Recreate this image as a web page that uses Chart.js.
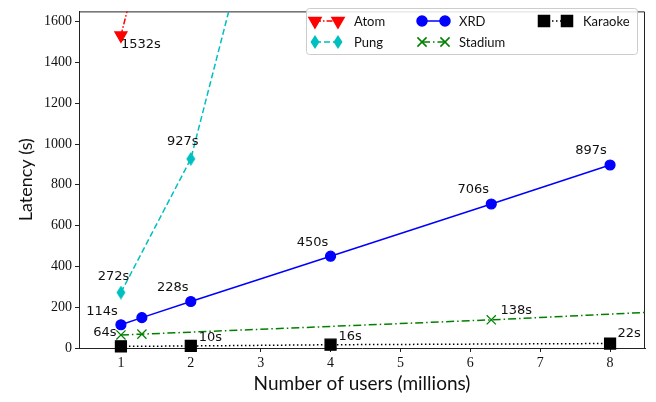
<!DOCTYPE html>
<html>
<head>
<meta charset="utf-8">
<script src="https://cdn.jsdelivr.net/npm/chart.js@4.4.0/dist/chart.umd.min.js"></script>
<style>
  html, body { margin: 0; padding: 0; background: #fff; }
  #wrap { width: 656px; height: 402px; }
</style>
</head>
<body>
<div id="wrap"><canvas id="c" width="656" height="402"></canvas></div>
<script>
// values (users in millions, latency in seconds)
const atomUsers = [1, 2]
const atomLatency = [1532, 2880]
const pungUsers = [1, 2, 4]
const pungLatency = [272, 927, 3591]
const xrdUsers = [1, 1.3, 2, 4, 6.3, 8]
const xrdLatency = [114, 149, 228, 450, 706, 897]
const stadiumUsers = [1, 1.3, 6.3, 10]
const stadiumLatency = [64, 68, 138, 199]
const karaokeUsers = [1, 2, 4, 8]
const karaokeLatency = [8, 10, 16, 22]

const xTicks = [1, 2, 3, 4, 5, 6, 7, 8]
const yTicks = [0, 200, 400, 600, 800, 1000, 1200, 1400, 1600]

const tickFont = { family: '"Liberation Serif", serif', size: 14 }

// thin diamond like matplotlib's 'd'
function thinDiamond(color) {
  const c = document.createElement('canvas')
  c.width = 10; c.height = 14
  const g = c.getContext('2d')
  g.fillStyle = color
  g.beginPath()
  g.moveTo(5, 0); g.lineTo(9.5, 7); g.lineTo(5, 14); g.lineTo(0.5, 7)
  g.closePath(); g.fill()
  return c
}

// per-series look; labels = { pointIndex: [dx, dy] } text centre offset from the point
const series = [
  { name: 'Atom', xs: atomUsers, ys: atomLatency, color: '#ff0000', dash: [6, 2, 1.5, 2],
    style: 'triangle', radius: 7, rotation: 180, labels: { 0: [20, 9.5] } },
  { name: 'Pung', xs: pungUsers, ys: pungLatency, color: '#00bfbf', dash: [6, 3],
    style: thinDiamond('#00bfbf'), radius: 6, rotation: 0, labels: { 0: [-7.5, -16], 1: [-8, -17] } },
  { name: 'XRD', xs: xrdUsers, ys: xrdLatency, color: '#0000ff', dash: [],
    style: 'circle', radius: 5, rotation: 0, labels: { 0: [-19, -13], 2: [-18, -13.5], 3: [-18, -13.5], 4: [-18, -14], 5: [-19, -14] } },
  { name: 'Stadium', xs: stadiumUsers, ys: stadiumLatency, color: '#008000', dash: [8, 3, 1.5, 3],
    style: 'crossRot', radius: 6.5, rotation: 0, labels: { 0: [-16, -2.5], 2: [25, -9] } },
  { name: 'Karaoke', xs: karaokeUsers, ys: karaokeLatency, color: '#000000', dash: [1.5, 2.5],
    style: 'rect', radius: 7.8, rotation: 0, labels: { 1: [19.5, -8], 2: [19.5, -8], 3: [19, -10] } }
]

// legend columns: [series name, handle x, text x, row y]
const legendItems = [
  ['Atom', 315, 354, 21], ['Pung', 315, 354, 42],
  ['XRD', 422, 459, 21], ['Stadium', 422, 459, 42],
  ['Karaoke', 544, 583, 21]
]

const frame = {
  id: 'frame',
  beforeDatasetsDraw(chart) {
    const { ctx, chartArea: a } = chart
    ctx.save()
    ctx.strokeStyle = '#222'
    ctx.lineWidth = 1
    ctx.beginPath()
    ctx.moveTo(a.left, a.top + 0.5); ctx.lineTo(a.right - 0.5, a.top + 0.5); ctx.lineTo(a.right - 0.5, a.bottom)
    ctx.stroke()
    ctx.restore()
  }
}

const pointLabels = {
  id: 'pointLabels',
  afterDatasetsDraw(chart) {
    const ctx = chart.ctx
    const xs = chart.scales.x, ys = chart.scales.y
    ctx.save()
    ctx.font = '13px "DejaVu Sans"'
    ctx.fillStyle = '#111'
    ctx.textAlign = 'center'
    ctx.textBaseline = 'middle'
    series.forEach(s => {
      Object.keys(s.labels).forEach(i => {
        const [dx, dy] = s.labels[i]
        const px = xs.getPixelForValue(s.xs[i]), py = ys.getPixelForValue(s.ys[i])
        ctx.fillText(s.ys[i] + 's', px + dx, py + dy)
      })
    })
    ctx.restore()
  }
}

const boxLegend = {
  id: 'boxLegend',
  afterDatasetsDraw(chart) {
    const ctx = chart.ctx
    ctx.save()
    ctx.fillStyle = 'rgba(255,255,255,0.85)'
    ctx.strokeStyle = '#cccccc'
    ctx.lineWidth = 1
    ctx.beginPath()
    ctx.roundRect(306.5, 8.5, 331, 46, 3)
    ctx.fill(); ctx.stroke()
    legendItems.forEach(([name, hx, tx, y]) => {
      const s = series.find(it => it.name === name)
      ctx.strokeStyle = s.color
      ctx.fillStyle = s.color
      ctx.lineWidth = 1.5
      ctx.setLineDash(s.dash)
      ctx.beginPath(); ctx.moveTo(hx, y); ctx.lineTo(hx + 23, y); ctx.stroke()
      ctx.setLineDash([])
      const opts = { pointStyle: s.style, radius: s.radius, rotation: s.rotation, borderWidth: 1.2 }
      Chart.helpers.drawPoint(ctx, opts, hx, y)
      Chart.helpers.drawPoint(ctx, opts, hx + 23, y)
      ctx.fillStyle = '#111'
      ctx.font = '13px Lato'
      ctx.textAlign = 'left'
      ctx.textBaseline = 'middle'
      ctx.fillText(name, tx, y + 1)
    })
    ctx.restore()
  }
}

new Chart(document.getElementById('c'), {
  type: 'line',
  data: {
    datasets: series.map(s => ({
      label: s.name,
      data: s.xs.map((x, i) => ({ x, y: s.ys[i] })),
      borderColor: s.color,
      backgroundColor: s.color,
      borderWidth: 1.5,
      borderDash: s.dash,
      pointStyle: s.style,
      pointRadius: s.radius,
      pointRotation: s.rotation,
      pointBorderWidth: 1.2,
      pointBackgroundColor: s.color,
      pointBorderColor: s.color,
      tension: 0,
      clip: { left: 10, top: 0, right: 0, bottom: 10 }
    }))
  },
  options: {
    responsive: false,
    animation: false,
    layout: { padding: { top: 2, right: 11, left: 0, bottom: 0 } },
    plugins: { legend: { display: false }, tooltip: { enabled: false } },
    scales: {
      x: {
        type: 'linear', min: 0.4, max: 8.5,
        afterBuildTicks: s => { s.ticks = xTicks.map(v => ({ value: v })) },
        afterFit: s => { s.height = 54 },
        grid: { drawOnChartArea: false, drawTicks: true, tickLength: 4, color: '#222' },
        border: { color: '#222', width: 1 },
        ticks: { font: tickFont, color: '#111', padding: 3, maxRotation: 0, callback: v => String(v) },
        title: { display: true, text: 'Number of users (millions)', font: { family: 'Lato', size: 19 }, color: '#111', padding: { top: 0, bottom: 7 } }
      },
      y: {
        type: 'linear', min: 0, max: 1650,
        afterBuildTicks: s => { s.ticks = yTicks.map(v => ({ value: v })) },
        afterFit: s => { s.width = 79 },
        grid: { drawOnChartArea: false, drawTicks: true, tickLength: 4, color: '#222' },
        border: { color: '#222', width: 1 },
        ticks: { font: tickFont, color: '#111', padding: 3, callback: v => String(v) },
        title: { display: true, text: 'Latency (s)', font: { family: 'Lato', size: 18 }, color: '#111', padding: { top: 15, bottom: 0 } }
      }
    }
  },
  plugins: [frame, pointLabels, boxLegend]
})
</script>
</body>
</html>
